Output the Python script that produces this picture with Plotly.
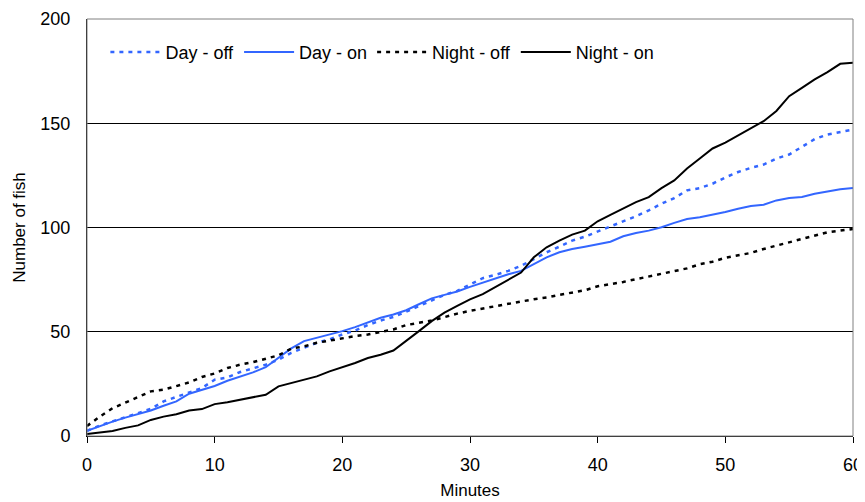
import plotly.graph_objects as go

minutes = list(range(0, 61))

day_off = [2.5, 5, 7, 9, 11, 13, 16.6, 18.7, 21, 23, 27, 28.1, 30.7, 32.3, 34.2, 36.6, 39.9, 42.3, 44.7, 46.3,
           48.7, 50.6, 53.2, 55.4, 57.1, 59.6, 62.4, 65.1, 67.7, 69.6, 72.5, 75.7, 77.3, 79.2, 81.6, 84.9, 88.1,
           90.8, 93.7, 95.6, 98, 100.6, 102.9, 105.4, 108.2, 111.4, 114.1, 117.8, 118.9, 121, 124, 126.6, 128.6,
           130.2, 133.1, 135, 138.7, 142.4, 144.6, 145.9, 147]

day_on = [2.5, 4.8, 6.9, 8.8, 10.4, 12.2, 14.5, 16.6, 20.3, 22.2, 24, 26.5, 28.5, 30.5, 33, 37.4, 42, 45.5, 47.1,
          48.4, 50.3, 52.2, 54.6, 56.7, 58.3, 60.3, 63.2, 66, 67.7, 69.3, 71.5, 73.6, 75.7, 77.6, 79.2, 82.4, 85.7,
          88.1, 89.7, 90.8, 92, 93.2, 95.8, 97.4, 98.5, 100.1, 102.2, 104.1, 104.9, 106.1, 107.4, 109, 110.3, 110.9,
          113, 114.1, 114.6, 116.2, 117.3, 118.3, 118.9]

night_off = [4.8, 9.3, 13.3, 16, 19, 21.4, 22.2, 23.8, 25.7, 28.3, 30, 32.6, 34.2, 35.4, 37.1, 38.7, 41.9, 43, 44.7,
             45.8, 46.9, 47.9, 48.7, 50, 51.1, 53.2, 54.3, 55.4, 57, 58.7, 60, 61.2, 62.4, 63.5, 64.5, 65.6, 66.4,
             67.7, 68.8, 69.9, 71.8, 72.8, 73.9, 75.2, 76.5, 78.1, 79.2, 80.4, 82.4, 83.6, 85.5, 86.5, 87.8, 89.7,
             91.3, 93.2, 94.8, 96.4, 97.7, 98.5, 99.3]

night_on = [1, 1.6, 2.4, 3.9, 5.1, 7.7, 9.3, 10.4, 12.2, 12.9, 15.3, 16.2, 17.4, 18.5, 19.8, 23.8, 25.4, 26.7, 28.6,
            31, 33, 35, 37.4, 39, 41, 45.5, 50.3, 55.1, 59.2, 62.4, 65.5, 68, 71.5, 75.2, 78.4, 85.7, 90.5, 93.7,
            96.6, 98.5, 103, 106.1, 109.3, 112.2, 114.6, 118.9, 122.6, 128.3, 133.1, 137.9, 140.7, 144, 147.5, 151,
            155.9, 163, 167, 171, 174.5, 178.5, 179]

BLUE = "#3366FF"
FONT = "Liberation Sans, Arial, sans-serif"

fig = go.Figure()
fig.add_trace(go.Scatter(x=minutes, y=day_off, mode="lines", name="Day - off",
                         line=dict(color=BLUE, width=2.5, dash="4px,5px")))
fig.add_trace(go.Scatter(x=minutes, y=day_on, mode="lines", name="Day - on",
                         line=dict(color=BLUE, width=2)))
fig.add_trace(go.Scatter(x=minutes, y=night_off, mode="lines", name="Night - off",
                         line=dict(color="black", width=2.5, dash="4px,5px")))
fig.add_trace(go.Scatter(x=minutes, y=night_on, mode="lines", name="Night - on",
                         line=dict(color="black", width=2)))

fig.add_shape(type="rect", xref="paper", yref="paper", x0=0, y0=0, x1=1, y1=1,
              line=dict(color="#808080", width=1), layer="above")

# The page puts the figure 8 px in from the top-left corner, so the figure is 8 px smaller.
fig.update_layout(
    width=857, height=494,
    margin=dict(l=79, r=12, t=11, b=66, autoexpand=False),
    paper_bgcolor="white", plot_bgcolor="white",
    font=dict(family=FONT, size=17, color="black"),
    showlegend=True,
    legend=dict(orientation="h", x=0.024, y=0.92, xanchor="left", yanchor="middle",
                bgcolor="rgba(0,0,0,0)", font=dict(size=18), itemwidth=50),
    xaxis=dict(range=[0, 60], dtick=10, tick0=0, showgrid=False, zeroline=False,
               showline=True, linecolor="black", linewidth=1, automargin=False,
               ticks="outside", ticklen=6, tickcolor="black", ticklabelstandoff=6,
               tickfont=dict(size=18),
               title=dict(text="Minutes", standoff=10, font=dict(size=17))),
    yaxis=dict(range=[0, 200], dtick=50, tick0=0, showgrid=True, gridcolor="black", gridwidth=1,
               zeroline=False, showline=True, linecolor="black", linewidth=1, automargin=False,
               ticks="", ticklabelstandoff=12, tickfont=dict(size=18),
               title=dict(text="Number of fish", standoff=10, font=dict(size=17))),
)

fig.write_html("out.html")
